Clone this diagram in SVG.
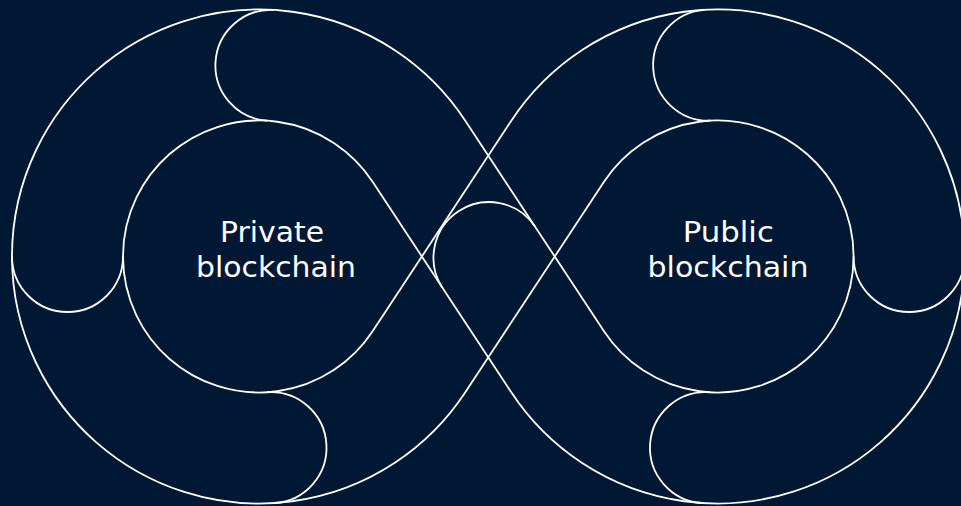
<svg xmlns="http://www.w3.org/2000/svg" width="961" height="506" viewBox="0 0 961 506">
  <style>
    .bg { fill: #011834; }
    .ln { fill: none; stroke: #ffffff; stroke-width: 1.8; stroke-linecap: round; stroke-linejoin: round; }
    .lbl { fill: #ffffff; font-family: "DejaVu Sans", "Liberation Sans", sans-serif; font-size: 27.5px; text-anchor: middle; }
  </style>
  <rect class="bg" x="0" y="0" width="961" height="506"/>
  <g id="connectors">
    <path class="ln" d="M465.3,120.7 A247,247 0 1,0 465.3,392.3 L604,181.7 A136,136 0 1,1 604,331.3 Z"/>
    <path class="ln" d="M372.6,181.7 A136,136 0 1,0 372.6,331.3 L511.3,120.7 A247,247 0 1,1 511.3,392.3 Z"/>
    <path class="ln" d="M534.65,226 A55.5,55.5 0 0,0 441.95,287"/>
  </g>
  <g id="private-blockchain">
    <path class="ln" d="M273.2,9.9 A55.5,55.5 0 0,0 266.8,120.7"/>
    <path class="ln" d="M12,256.5 A55.5,55.5 0 0,0 123,256.5"/>
    <path class="ln" d="M267.5,392.2 A55.5,55.5 0 0,1 274.5,503"/>
    <text class="lbl" x="272" y="241.7" textLength="104" lengthAdjust="spacingAndGlyphs">Private</text>
    <text class="lbl" x="276" y="276.7" textLength="160" lengthAdjust="spacingAndGlyphs">blockchain</text>
  </g>
  <g id="public-blockchain">
    <path class="ln" d="M704.2,9.9 A55.5,55.5 0 0,0 710.2,120.7"/>
    <path class="ln" d="M853.6,256.5 A55.5,55.5 0 0,0 964.6,256.5"/>
    <path class="ln" d="M709,392.2 A55.5,55.5 0 0,0 702,503"/>
    <text class="lbl" x="728.3" y="241.7" textLength="91" lengthAdjust="spacingAndGlyphs">Public</text>
    <text class="lbl" x="728" y="276.7" textLength="161" lengthAdjust="spacingAndGlyphs">blockchain</text>
  </g>
</svg>
